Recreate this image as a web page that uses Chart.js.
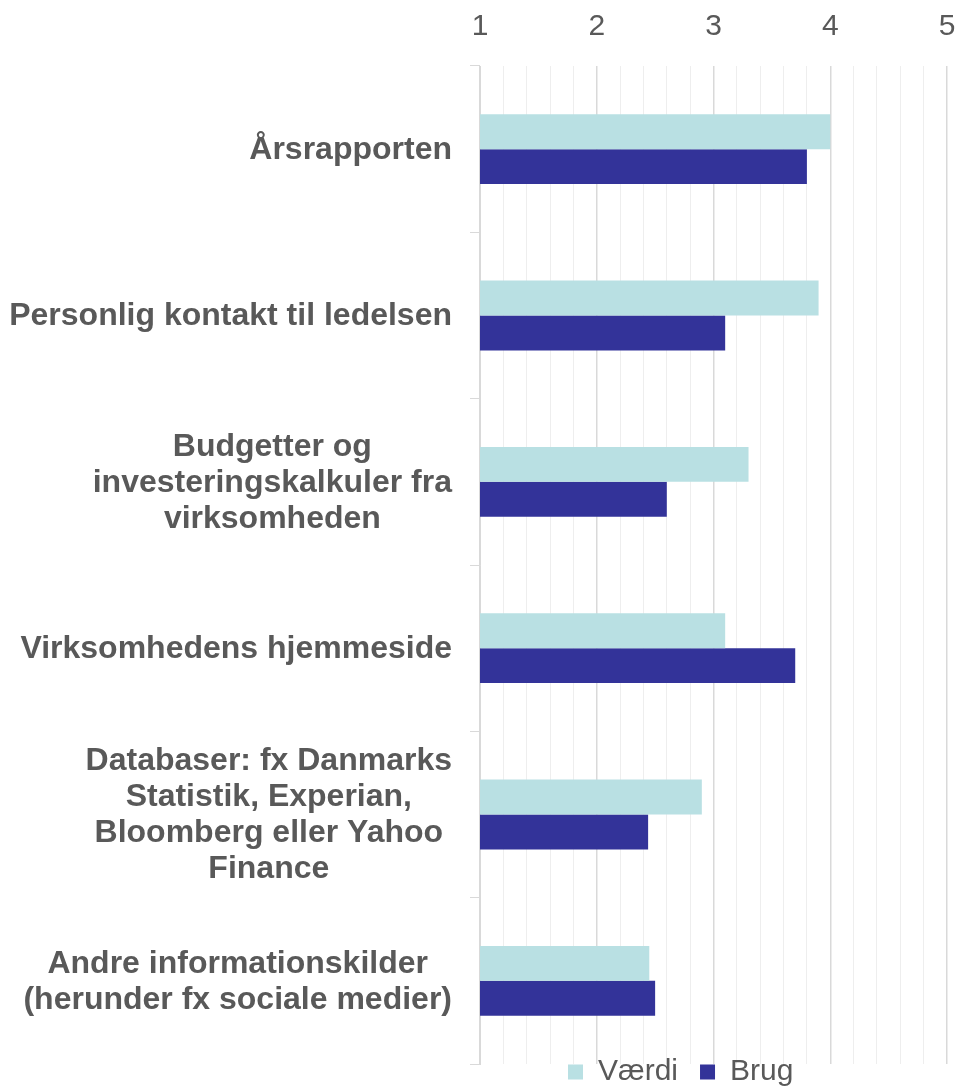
<!DOCTYPE html>
<html>
<head>
<meta charset="utf-8">
<script src="https://cdn.jsdelivr.net/npm/chart.js@4"></script>
<style>
  html, body { margin: 0; padding: 0; background: #fff; overflow: hidden; }
  #wrap { position: relative; width: 955px; height: 1126px; }
</style>
</head>
<body>
<div id="wrap"><canvas id="chart"></canvas></div>
<script>
// data
const categories = [
    ['Årsrapporten'],
    ['Personlig kontakt til ledelsen'],
    ['Budgetter og', 'investeringskalkuler fra', 'virksomheden'],
    ['Virksomhedens hjemmeside'],
    ['Databaser: fx Danmarks', 'Statistik, Experian,', 'Bloomberg eller Yahoo', 'Finance'],
    ['Andre informationskilder', '(herunder fx sociale medier)']
];
const vaerdiValues = [4.0, 3.9, 3.3, 3.1, 2.9, 2.45];
const brugValues = [3.8, 3.1, 2.6, 3.7, 2.44, 2.5];
const seriesNames = ['Værdi', 'Brug'];

const textColor = '#595959';
const fontFamily = '"Liberation Sans", Arial, sans-serif';
const isMajor = v => Math.abs(v - Math.round(v)) < 1e-6;

// category labels: each block right aligned, lines centered inside the block
const categoryLabels = {
    id: 'categoryLabels',
    afterDraw(chart) {
        const ctx = chart.ctx;
        const yScale = chart.scales.y;
        const right = chart.chartArea.left - 28;
        ctx.save();
        ctx.font = 'bold 32px ' + fontFamily;
        ctx.fillStyle = textColor;
        ctx.textAlign = 'center';
        ctx.textBaseline = 'middle';
        categories.forEach((lines, i) => {
            const widest = Math.max(...lines.map(l => ctx.measureText(l).width));
            const cx = right - widest / 2;
            const cy = yScale.getPixelForValue(i) + 1;
            lines.forEach((line, j) => {
                ctx.fillText(line, cx, cy + (j - (lines.length - 1) / 2) * 36);
            });
        });
        ctx.restore();
    }
};

// move the legend under the plot like in the original
const legendShift = {
    id: 'legendShift',
    afterLayout(chart) {
        const lg = chart.legend;
        if (!lg || !lg.lineWidths) return;
        const pad = lg.options.labels.padding;
        const size = lg.options.labels.font.size;
        const start = (lg.left + pad + lg.right - lg.lineWidths[0]) / 2;
        const dx = 568 - start;
        const dy = 1072 - (lg.top + pad + size / 2);
        lg.left += dx; lg.right += dx;
        lg.top += dy; lg.bottom += dy;
    }
};

new Chart(document.getElementById('chart'), {
    type: 'bar',
    data: {
        labels: categories,
        datasets: [{
            label: seriesNames[0],
            data: vaerdiValues,
            backgroundColor: '#b9e0e3',
            borderWidth: 0
        }, {
            label: seriesNames[1],
            data: brugValues,
            backgroundColor: '#333399',
            borderWidth: 0
        }]
    },
    options: {
        indexAxis: 'y',
        responsive: true,
        maintainAspectRatio: false,
        animation: false,
        categoryPercentage: 0.42,
        barPercentage: 1.0,
        layout: { padding: 0 },
        scales: {
            x: {
                position: 'top',
                min: 1,
                max: 5,
                border: { display: false },
                grid: {
                    drawTicks: false,
                    color: c => (c.tick && isMajor(c.tick.value)) ? '#d9d9d9' : '#eeeeee',
                    lineWidth: c => (c.tick && isMajor(c.tick.value)) ? 1.5 : 1
                },
                ticks: {
                    stepSize: 0.2,
                    autoSkip: false,
                    maxRotation: 0,
                    padding: 21,
                    color: textColor,
                    font: { family: fontFamily, size: 30 },
                    callback: v => isMajor(v) ? String(Math.round(v)) : ''
                },
                afterFit: scale => {
                    scale.height = 66;
                    scale.paddingLeft = 0;
                    scale.paddingRight = 8;
                }
            },
            y: {
                border: { color: '#d9d9d9', width: 1 },
                grid: {
                    drawOnChartArea: false,
                    drawTicks: true,
                    tickLength: 10,
                    color: '#d9d9d9'
                },
                ticks: { display: false },
                afterFit: scale => { scale.width = 480; }
            }
        },
        plugins: {
            legend: {
                position: 'bottom',
                labels: {
                    boxWidth: 15,
                    boxHeight: 15,
                    padding: 22,
                    color: textColor,
                    font: { family: fontFamily, size: 30 }
                }
            },
            tooltip: { enabled: false }
        }
    },
    plugins: [categoryLabels, legendShift]
});
</script>
</body>
</html>
